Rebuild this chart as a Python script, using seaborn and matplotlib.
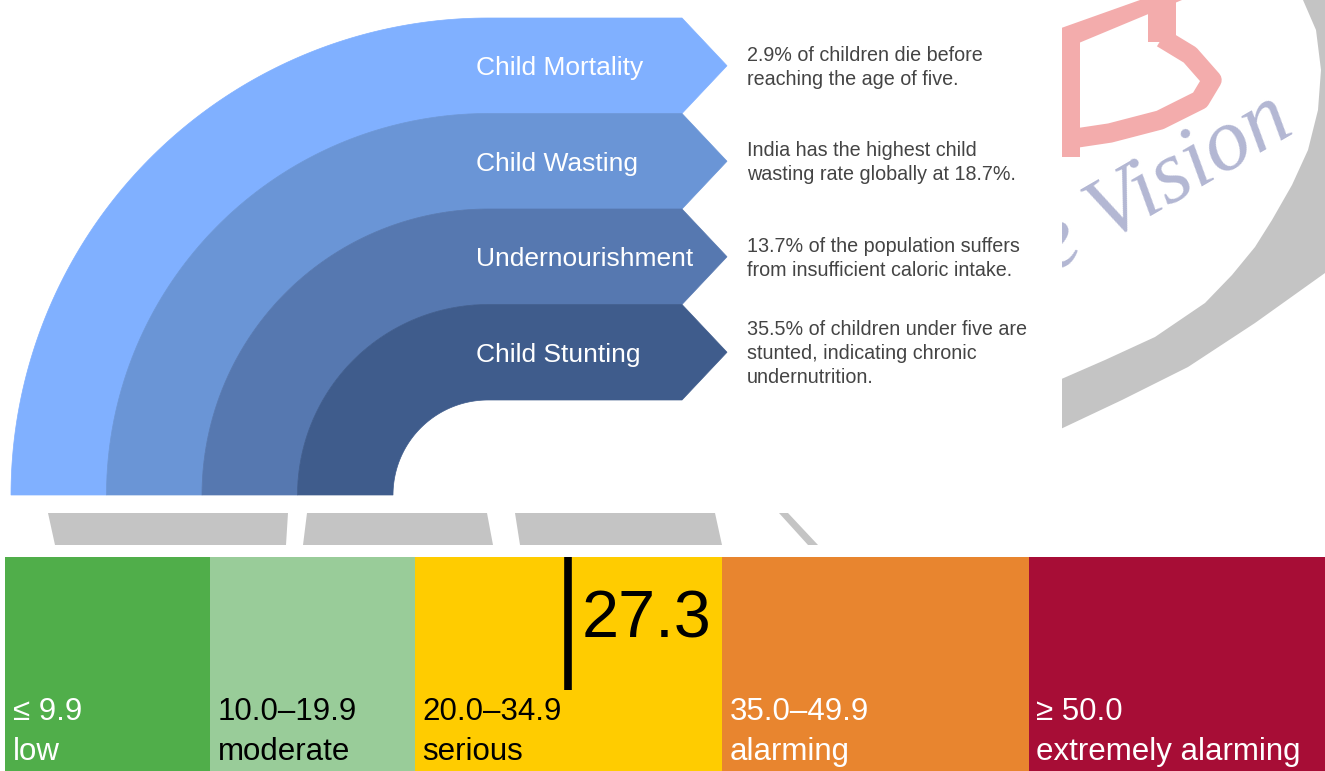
import numpy as np
import pandas as pd
import matplotlib
matplotlib.use('Agg')
import matplotlib.pyplot as plt
import matplotlib.transforms as mtransforms
from matplotlib import font_manager
from matplotlib.patches import Polygon, Rectangle
import seaborn as sns

# Indikatoren (Bögen mit Pfeilen)
indicators = ['Child Mortality', 'Child Wasting', 'Undernourishment', 'Child Stunting']
descriptions = [
    ['2.9% of children die before', 'reaching the age of five.'],
    ['India has the highest child', 'wasting rate globally at 18.7%.'],
    ['13.7% of the population suffers', 'from insufficient caloric intake.'],
    ['35.5% of children under five are', 'stunted, indicating chronic', 'undernutrition.'],
]
band_colors = ['#80B0FF', '#6A95D6', '#5678B0', '#3F5C8C']

# GHI-Skala
severity_labels = ['low', 'moderate', 'serious', 'alarming', 'extremely alarming']
range_labels = ['\u2264 9.9', '10.0\u201319.9', '20.0\u201334.9', '35.0\u201349.9', '\u2265 50.0']
severity_lower = [0, 10, 20, 35, 50]
severity_upper = [10, 20, 35, 50, 65]
severity_colors = ['#50AE4A', '#99CC99', '#FFCC00', '#E8852F', '#A70D36']
severity_text_colors = ['white', 'black', 'black', 'white', 'white']
india_score = 27.3

sns.set_theme(style='white')
plt.rcParams['font.family'] = ['Liberation Sans', 'DejaVu Sans']

names = {f.name for f in font_manager.fontManager.ttflist}
if 'Liberation Sans Narrow' in names:
    narrow_font = ['Liberation Sans Narrow', 'DejaVu Sans']
    narrow_size = 26
else:
    narrow_font = ['Liberation Sans', 'DejaVu Sans']
    narrow_size = 22.5

W, H = 1325, 771
fig = plt.figure(figsize=(W / 100, H / 100), dpi=100)
fig.patch.set_facecolor('white')

# Hintergrund-Achse in Pixelkoordinaten
ax = fig.add_axes([0, 0, 1, 1])
ax.set_xlim(0, W)
ax.set_ylim(H, 0)
ax.axis('off')

# Wasserzeichen (nur rechts vom Bild sichtbar)
clip = Rectangle((1062, 0), W - 1062, 440, transform=ax.transData)
clip_box = mtransforms.TransformedBbox(mtransforms.Bbox([[1062, 440], [W, 0]]), ax.transData)
inner_curve = [(1303, 0), (1316, 30), (1321, 70), (1318, 110), (1308, 150), (1292, 185),
               (1272, 220), (1255, 247), (1232, 275), (1205, 303), (1155, 337),
               (1105, 360), (1050, 384)]
lower_edge = [(1325, 273), (1255, 323), (1188, 367), (1122, 400), (1050, 434)]
ring = Polygon([(1325, 0)] + lower_edge + inner_curve[::-1],
               closed=True, facecolor='#c4c4c4', edgecolor='none')
ax.add_patch(ring)
ring.set_clip_path(clip)

pink = '#f3acac'
logo_parts = [
    Polygon([(1050, 32), (1140, 0), (1182, 0), (1050, 55)], closed=True),
    Polygon([(1050, 40), (1080, 40), (1080, 157), (1050, 157)], closed=True),
    Polygon([(1148, 0), (1176, 0), (1176, 42), (1148, 42)], closed=True),
]
for p in logo_parts:
    p.set_facecolor(pink)
    p.set_edgecolor('none')
    ax.add_patch(p)
    p.set_clip_path(clip)
curve_x = [1162, 1190, 1212, 1200, 1160, 1110, 1050]
curve_y = [38, 55, 80, 100, 120, 133, 142]
ln, = ax.plot(curve_x, curve_y, color=pink, lw=14, solid_capstyle='butt',
              solid_joinstyle='round')
ln.set_clip_path(clip)
wm = ax.text(1296, 132, 'The Vision', family=['Liberation Serif', 'DejaVu Serif'],
             style='italic', fontsize=64, color='#b3b7d3', rotation=30,
             rotation_mode='anchor', ha='right', va='baseline')
wm.set_clip_box(clip_box)
wm.set_clip_on(True)

# Graue Reste des Wasserzeichens über der Skala
strip = [
    [(48, 513), (288, 513), (286, 545), (55, 545)],
    [(307, 513), (487, 513), (493, 545), (303, 545)],
    [(515, 513), (715, 513), (722, 545), (520, 545)],
    [(779, 513), (788, 513), (818, 545), (808, 545)],
]
for pts in strip:
    ax.add_patch(Polygon(pts, closed=True, facecolor='#c4c4c4', edgecolor='none'))

# Bögen mit Pfeilen
cx, cy = 488, 495
r_outer, step = 477, 95.5
arrow_x, tip_x = 682, 727
theta = np.linspace(np.pi, np.pi / 2, 120)
for k, (name, color) in enumerate(zip(indicators, band_colors)):
    r1 = r_outer - step * k
    r2 = r1 - step
    y_top, y_bot = cy - r1, cy - r2
    mid = (y_top + y_bot) / 2
    outer = list(zip(cx + r1 * np.cos(theta), cy - r1 * np.sin(theta)))
    inner = list(zip(cx + r2 * np.cos(theta[::-1]), cy - r2 * np.sin(theta[::-1])))
    pts = outer + [(arrow_x, y_top), (tip_x, mid), (arrow_x, y_bot)] + inner
    ax.add_patch(Polygon(pts, closed=True, facecolor=color, edgecolor=color, lw=0.5))
    ax.text(476, mid + 9.5, name, fontsize=19, color='white', ha='left', va='baseline')
    lines = descriptions[k]
    first = mid - (len(lines) - 1) * 12 + 7
    for j, line in enumerate(lines):
        ax.text(747, first + 24 * j, line, fontsize=14.2, color='#444444',
                ha='left', va='baseline')

# GHI-Skala mit seaborn
left_px = 5.25
ax_scale = fig.add_axes([left_px / W, 0, 1 - left_px / W, (H - 557) / H])
df = pd.DataFrame({'upper': severity_upper, 'row': ['GHI'] * 5, 'level': severity_labels})
sns.barplot(data=df, x='upper', y='row', hue='level', hue_order=severity_labels[::-1],
            palette=dict(zip(severity_labels, severity_colors)), dodge=False,
            width=1, saturation=1, linewidth=0, legend=False, orient='h', ax=ax_scale)
ax_scale.set_xlim(0, (W - left_px) / 20.475)
ax_scale.set_ylim(0.5, -0.5)
ax_scale.axis('off')

xtrans = ax_scale.get_xaxis_transform()
label_trans = xtrans + mtransforms.ScaledTranslation(7.5 / 100, 0, fig.dpi_scale_trans)
for lo, rng, lab, tc in zip(severity_lower, range_labels, severity_labels, severity_text_colors):
    ax_scale.text(lo, (H - 720) / (H - 557), rng, transform=label_trans, color=tc,
                  family=narrow_font, fontsize=narrow_size, ha='left', va='baseline')
    ax_scale.text(lo, (H - 760) / (H - 557), lab, transform=label_trans, color=tc,
                  family=narrow_font, fontsize=narrow_size, ha='left', va='baseline')

# Markierung für Indien
mark_trans = xtrans + mtransforms.ScaledTranslation(4 / 100, 0, fig.dpi_scale_trans)
ax_scale.plot([india_score, india_score], [(H - 690) / (H - 557), 1], color='black',
              lw=5.5, solid_capstyle='butt', transform=mark_trans)
score_trans = xtrans + mtransforms.ScaledTranslation(17 / 100, 0, fig.dpi_scale_trans)
ax_scale.text(india_score, (H - 638) / (H - 557), f'{india_score}', transform=score_trans,
              fontsize=48, color='black', ha='left', va='baseline')

fig.savefig('out.png', dpi=100, facecolor='white')
